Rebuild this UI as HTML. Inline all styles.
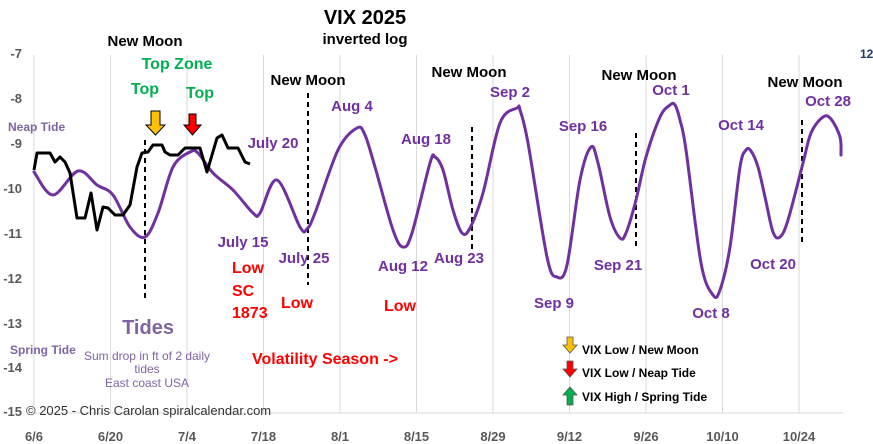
<!DOCTYPE html>
<html><head><meta charset="utf-8"><style>
body{margin:0;background:#fff}
svg{display:block;font-family:"Liberation Sans",sans-serif;font-weight:bold}
</style></head><body>
<svg width="873" height="444" viewBox="0 0 873 444" xmlns="http://www.w3.org/2000/svg">
<g stroke="#d9d9d9" stroke-width="1">
<line x1="34" y1="55" x2="34" y2="413"/><line x1="110.5" y1="55" x2="110.5" y2="413"/><line x1="187" y1="55" x2="187" y2="413"/><line x1="263.5" y1="55" x2="263.5" y2="413"/><line x1="340" y1="55" x2="340" y2="413"/><line x1="416.5" y1="55" x2="416.5" y2="413"/><line x1="493" y1="55" x2="493" y2="413"/><line x1="569.5" y1="55" x2="569.5" y2="413"/><line x1="646" y1="55" x2="646" y2="413"/><line x1="722.5" y1="55" x2="722.5" y2="413"/><line x1="799" y1="55" x2="799" y2="413"/>
<line x1="34" y1="413" x2="843" y2="413"/>
</g>
<g fill="#595959" font-size="13" text-anchor="end">
<text x="22" y="58">-7</text><text x="22" y="103">-8</text><text x="22" y="148">-9</text><text x="22" y="193">-10</text><text x="22" y="238">-11</text><text x="22" y="283">-12</text><text x="22" y="328">-13</text><text x="22" y="372">-14</text><text x="22" y="416">-15</text>
</g>
<g fill="#595959" font-size="13" text-anchor="middle">
<text x="34" y="441">6/6</text><text x="110.5" y="441">6/20</text><text x="187" y="441">7/4</text><text x="263.5" y="441">7/18</text><text x="340" y="441">8/1</text><text x="416.5" y="441">8/15</text><text x="493" y="441">8/29</text><text x="569.5" y="441">9/12</text><text x="646" y="441">9/26</text><text x="722.5" y="441">10/10</text><text x="799" y="441">10/24</text>
</g>
<g stroke="#000" stroke-width="2" stroke-dasharray="5,4">
<line x1="145" y1="140" x2="145" y2="298"/><line x1="308" y1="93" x2="308" y2="285"/><line x1="472" y1="127" x2="472" y2="253"/><line x1="636" y1="133" x2="636" y2="250"/><line x1="802" y1="120" x2="802" y2="245"/>
</g>
<path id="pur" fill="none" stroke="#7030A0" stroke-width="3" stroke-linejoin="round" stroke-linecap="round" d=""/>
<polyline fill="none" stroke="#000" stroke-width="3" stroke-linejoin="round" points="34,170 37,153 50,153 55,162 60,157 65,162 70,173 77,218 85,218 91,193 97,230 103,207 108,208 115,215 123,215 130,205 137,167 142,153 148,152 153,145 162,145 165,152 170,155 178,155 185,148 200,148 207,172 217,138 222,135 228,148 238,148 245,162 250,164"/>
<path d="M151,111 h9 v14 h5 l-9.5,10 l-9.5,-10 h5 z" fill="#FFC000" stroke="#000" stroke-width="1"/>
<path d="M189,114 h7 v11 h5 l-8.5,10 l-8.5,-10 h5 z" fill="#FF0000" stroke="#000" stroke-width="1"/>
<path d="M567,337 h6 v8 h4 l-7,8 l-7,-8 h4 z" fill="#FFC000" stroke="#555" stroke-width="0.8"/>
<path d="M567,361 h6 v8 h4 l-7,8 l-7,-8 h4 z" fill="#FF0000" stroke="#555" stroke-width="0.8"/>
<path d="M570,387 l7,8 h-4 v10 h-6 v-10 h-4 z" fill="#00B050" stroke="#555" stroke-width="0.8"/>
<g fill="#000">
<text x="365" y="24" font-size="20" text-anchor="middle">VIX 2025</text>
<text x="365" y="44" font-size="15" text-anchor="middle">inverted log</text>
<g font-size="15" text-anchor="middle">
<text x="145" y="46">New Moon</text><text x="308" y="85">New Moon</text><text x="469" y="77">New Moon</text><text x="639" y="80">New Moon</text><text x="805" y="87">New Moon</text>
</g>
<g font-size="12"><text x="582" y="354">VIX Low / New Moon</text><text x="582" y="377">VIX Low / Neap Tide</text><text x="582" y="401">VIX High / Spring Tide</text></g>
</g>
<text x="860" y="58" font-size="12" fill="#1F3864">12</text>
<g fill="#00B050" font-size="16" text-anchor="middle">
<text x="177" y="69">Top Zone</text><text x="145" y="94">Top</text><text x="200" y="98">Top</text>
</g>
<g fill="#7030A0" font-size="15" text-anchor="middle">
<text x="273" y="148">July 20</text><text x="352" y="111">Aug 4</text><text x="426" y="144">Aug 18</text><text x="510" y="97">Sep 2</text><text x="583" y="131">Sep 16</text><text x="671" y="95">Oct 1</text><text x="741" y="130">Oct 14</text><text x="828" y="106">Oct 28</text>
<text x="243" y="247">July 15</text><text x="304" y="263">July 25</text><text x="403" y="271">Aug 12</text><text x="459" y="263">Aug 23</text><text x="554" y="308">Sep 9</text><text x="618" y="270">Sep 21</text><text x="711" y="318">Oct 8</text><text x="773" y="269">Oct 20</text>
</g>
<g fill="#FF0000" font-size="16">
<text x="232" y="273">Low</text><text x="232" y="296">SC</text><text x="232" y="318">1873</text>
<text x="297" y="308" text-anchor="middle">Low</text><text x="400" y="311" text-anchor="middle">Low</text>
<text x="252" y="364">Volatility Season -&gt;</text>
</g>
<g fill="#8064A2">
<text x="8" y="131" font-size="12">Neap Tide</text>
<text x="148" y="334" font-size="20" text-anchor="middle">Tides</text>
<text x="10" y="354" font-size="12">Spring Tide</text>
<g font-size="12" font-weight="normal" text-anchor="middle"><text x="147" y="360">Sum drop in ft of 2 daily</text><text x="147" y="373">tides</text><text x="147" y="387">East coast USA</text></g>
</g>
<text x="26" y="415" font-size="13" font-weight="normal" fill="#333">© 2025 - Chris Carolan  spiralcalendar.com</text>
</svg>
<script>
(function(){
var s="34,172 53,195 78,171 97,185 113,195 130,227 145,237 158,213 173,167 190,152 198,153 213,173 233,190 253,213 260,213 277,180 300,227 307,229 315,213 338,150 357,128 365,135 375,167 393,230 403,247 412,233 430,163 435,157 443,170 453,210 462,233 470,228 483,193 500,123 517,108 520,110 528,143 547,257 557,277 567,265 580,180 591,147 598,163 610,217 620,238 626,233 636,200 646,157 660,117 670,105 675,105 680,120 686,150 701,263 713,295 720,290 730,247 740,167 746,150 751,151 758,167 765,197 773,232 780,237 788,220 803,163 811,133 823,117 831,119 840,137 841,155";
var p=s.split(" ").map(function(t){return t.split(",").map(Number)});
var d="M"+p[0][0]+","+p[0][1];
for(var i=0;i<p.length-1;i++){
var p0=p[i-1]||p[i],p1=p[i],p2=p[i+1],p3=p[i+2]||p2;
var c1x=p1[0]+(p2[0]-p0[0])/6,c1y=p1[1]+(p2[1]-p0[1])/6;
var c2x=p2[0]-(p3[0]-p1[0])/6,c2y=p2[1]-(p3[1]-p1[1])/6;
d+=" C"+c1x.toFixed(1)+","+c1y.toFixed(1)+" "+c2x.toFixed(1)+","+c2y.toFixed(1)+" "+p2[0]+","+p2[1];
}
document.getElementById("pur").setAttribute("d",d);
})();
</script>
</body></html>
